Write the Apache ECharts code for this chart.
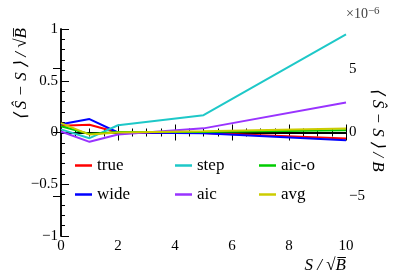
<!DOCTYPE html>
<html><head><meta charset="utf-8">
<script src="https://cdn.jsdelivr.net/npm/echarts@6/dist/echarts.min.js"></script>
<style>html,body{margin:0;padding:0;background:#fff}#c{width:407px;height:277px}</style>
</head><body><div id="c"></div>
<script>
const xs = [0, 1, 2, 5, 10];
const seriesNames = ['true', 'wide', 'step', 'aic', 'aic-o', 'avg'];
const trueVals = [0.065, 0.075, 0.0, -0.005, -0.058];
const wideVals = [0.08, 0.13, 0.0, -0.008, -0.074];
const stepVals = [0.03, -0.055, 0.07, 0.167, 0.947];
const aicVals = [0.01, -0.09, -0.02, 0.04, 0.29];
const aicoVals = [0.06, -0.015, 0.005, 0.006, 0.022];
const avgVals = [0.09, -0.02, 0.0, 0.012, 0.039];
const xTicks = [0, 2, 4, 6, 8, 10];
const yTicks = [-1, -0.5, 0, 0.5, 1];
const rightTicks = [-5, 0, 5];

const colors = {'true':'#ff0000','wide':'#0000ff','step':'#1ec8c8','aic':'#9933ff','aic-o':'#00cc00','avg':'#cccc00'};
const vals = {'true':trueVals,'wide':wideVals,'step':stepVals,'aic':aicVals,'aic-o':aicoVals,'avg':avgVals};
const FONT = '"Liberation Serif", "Times New Roman", serif';
const fmt = v => (v < 0 ? '\u2212' + Math.abs(v) : String(v));

const series = seriesNames.map((n, i) => ({
  name: n, type: 'line', xAxisIndex: 0, yAxisIndex: 0,
  data: xs.map((x, k) => [x, vals[n][k]]),
  symbol: 'none', lineStyle: {width: 2, color: colors[n]}, itemStyle: {color: colors[n]},
  z: 3 + i, animation: false
}));
series[0].markLine = {silent: true, symbol: 'none', animation: false,
  lineStyle: {color: '#000', width: 1.5, type: 'solid'}, label: {show: false},
  data: [{yAxis: 0}], z: 2};

const legendPos = [
  ['true', 75, 157], ['step', 175, 157], ['aic-o', 259, 157],
  ['wide', 75, 186], ['aic', 175, 186], ['avg', 259, 186]
];

const chart = echarts.init(document.getElementById('c'), null, {renderer: 'canvas'});
chart.setOption({
  animation: false,
  backgroundColor: '#fff',
  textStyle: {fontFamily: FONT},
  grid: {left: 61, right: 61, top: 29, bottom: 41},
  legend: legendPos.map(([n, l, t]) => ({
    data: [n], left: l, top: t, icon: 'rect', itemWidth: 17, itemHeight: 2.5,
    itemGap: 0, textStyle: {fontFamily: FONT, fontSize: 17, color: '#000', padding: [0, 0, 0, 0]},
    padding: 0
  })),
  xAxis: [
    {type: 'value', min: 0, max: 10, interval: 2, position: 'bottom',
     axisLine: {lineStyle: {color: '#000', width: 1.5}},
     axisTick: {inside: true, length: 8, lineStyle: {color: '#000'}},
     minorTick: {show: true, splitNumber: 4, length: 4, lineStyle: {color: '#000'}},
     splitLine: {show: false},
     axisLabel: {fontFamily: FONT, fontSize: 15, color: '#000', margin: 3, formatter: v => xTicks.includes(v) ? fmt(v) : ''}},
    {type: 'value', min: 0, max: 10, interval: 2, position: 'top',
     axisLine: {lineStyle: {color: '#000', width: 1.5}},
     axisTick: {inside: true, length: 8, lineStyle: {color: '#000'}},
     minorTick: {show: true, splitNumber: 4, length: 4, lineStyle: {color: '#000'}},
     splitLine: {show: false}, axisLabel: {show: false}}
  ],
  yAxis: [
    {type: 'value', min: -1, max: 1, interval: 0.5, position: 'left',
     axisLine: {show: true, lineStyle: {color: '#000', width: 1.5}},
     axisTick: {inside: true, length: 8, lineStyle: {color: '#000'}},
     minorTick: {show: true, splitNumber: 5, length: 4, lineStyle: {color: '#000'}},
     splitLine: {show: false},
     axisLabel: {fontFamily: FONT, fontSize: 15, color: '#000', margin: 3, formatter: v => yTicks.includes(v) ? fmt(v) : ''}},
    {type: 'value', min: -8.1, max: 8.1, position: 'right',
     axisLine: {show: true, lineStyle: {color: '#000', width: 1.5}},
     axisTick: {show: true, inside: true, length: 8, customValues: rightTicks, lineStyle: {color: '#000'}},
     splitLine: {show: false},
     axisLabel: {fontFamily: FONT, fontSize: 15, color: '#000', margin: 3, customValues: rightTicks, formatter: v => fmt(v)}}
  ],
  graphic: [
    {type: 'text', x: 22, y: 28, rotation: Math.PI / 2,
     style: {text: '\u27E8 \u015C \u2212 S \u27E9 / \u221AB\u0305', font: 'italic 17px "Liberation Serif"', fill: '#000',
             align: 'right', verticalAlign: 'middle'}},
    {type: 'text', x: 377, y: 130, rotation: -Math.PI / 2,
     style: {text: '\u27E8 \u015C \u2212 S \u27E9 / B', font: 'italic 17px "Liberation Serif"', fill: '#000',
             align: 'center', verticalAlign: 'middle'}},
    {type: 'text', x: 346, y: 266,
     style: {text: 'S / \u221AB\u0305', font: 'italic 17px "Liberation Serif"', fill: '#000',
             align: 'right', verticalAlign: 'middle'}},
    {type: 'text', x: 346, y: 6,
     style: {text: '\u00D710{s|\u22126}', font: '14px "Liberation Serif"', fill: '#444',
             rich: {s: {fontSize: 11, fontFamily: FONT, fill: '#444', verticalAlign: 'top', padding: [0, 0, 6, 0]}}}}
  ],
  series: series
});
</script></body></html>
